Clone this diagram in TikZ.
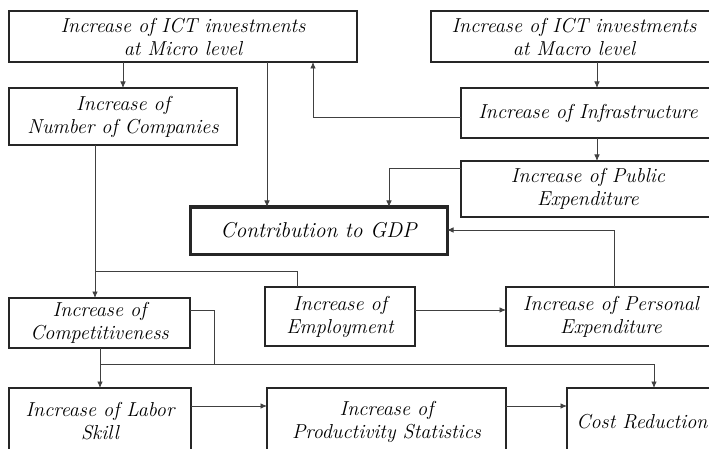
\documentclass[tikz,border=0pt]{standalone}
\usepackage{fontspec}
\usetikzlibrary{arrows.meta}
\newcommand\boxfont{\itshape\fontsize{20.2}{23}\selectfont}
\begin{document}
\begin{tikzpicture}[x=1pt,y=-1pt,
  box/.style={draw=black!85, line width=1.1pt, inner sep=0pt, outer sep=0pt,
    align=center, font=\boxfont, anchor=north west},
  keybox/.style={box, line width=3pt, font=\itshape\fontsize{21.5}{24}\selectfont},
  link/.style={draw=black!75, line width=0.8pt},
  arr/.style={link, -{Latex[length=6.5pt,width=5.5pt]}}]
\path[use as bounding box] (0,0) rectangle (709,449);
\clip (0,0) rectangle (709,449);

% boxes
\node[box, minimum width=348pt, minimum height=51pt] (micro) at (9,11)
  {Increase of ICT investments\\at Micro level};
\node[box, minimum width=286pt, minimum height=51pt] (macro) at (431,11)
  {Increase of ICT investments\\at Macro level};
\node[box, minimum width=228pt, minimum height=57pt] (ncomp) at (9,88)
  {Increase of\\Number of Companies};
\node[box, minimum width=254pt, minimum height=50pt] (infra) at (461,88)
  {Increase of Infrastructure};
\node[box, minimum width=254pt, minimum height=56pt] (public) at (461,161)
  {Increase of Public\\Expenditure};
\node[keybox, minimum width=257pt, minimum height=47pt] (gdp) at (190,207)
  {Contribution to GDP};
\node[box, minimum width=150pt, minimum height=59pt] (employ) at (265,287)
  {Increase of\\Employment};
\node[box, minimum width=210pt, minimum height=59pt] (personal) at (506,287)
  {Increase of Personal\\Expenditure};
\node[box, minimum width=181pt, minimum height=50pt] (compet) at (9,298)
  {Increase of\\Competitiveness};
\node[box, minimum width=182pt, minimum height=67pt] (labor) at (9,388)
  {Increase of Labor\\Skill};
\node[box, minimum width=239pt, minimum height=67pt] (prod) at (267,388)
  {Increase of\\Productivity Statistics};
\node[box, minimum width=150pt, minimum height=67pt] (cost) at (567,388)
  {Cost Reduction};

% routing columns and rows
\coordinate (xa) at (123,0);
\coordinate (xb) at (267,0);
\coordinate (xc) at (313,0);
\coordinate (xd) at (597,0);
\coordinate (xe) at (389,0);
\coordinate (xf) at (614,0);
\coordinate (xg) at (95,0);
\coordinate (xh) at (297,0);
\coordinate (xi) at (100,0);
\coordinate (xj) at (214,0);
\coordinate (xk) at (654,0);
\coordinate (ya) at (0,117);
\coordinate (yb) at (0,168);
\coordinate (yc) at (0,230);
\coordinate (yd) at (0,271);
\coordinate (ye) at (0,310);
\coordinate (yf) at (0,364);
\coordinate (yg) at (0,406);

% connectors
\draw[arr] (micro.south -| xa) -- (ncomp.north -| xa);
\draw[arr] (micro.south -| xb) -- (gdp.north -| xb);
\draw[arr] (infra.west |- ya) -| (micro.south -| xc);
\draw[arr] (macro.south -| xd) -- (infra.north -| xd);
\draw[arr] (infra.south -| xd) -- (public.north -| xd);
\draw[arr] (public.west |- yb) -| (gdp.north -| xe);
\draw[arr] (personal.north -| xf) |- (gdp.east |- yc);
\draw[arr] (ncomp.south -| xg) -- (compet.north -| xg);
\draw[link] (employ.north -| xh) |- (xg |- yd);
\draw[arr] (employ.east |- ye) -- (personal.west |- ye);
\draw[arr] (compet.south -| xi) -- (labor.north -| xi);
\draw[link] (compet.east |- ye) -| (xj |- yf);
\draw[arr] (xi |- yf) -| (cost.north -| xk);
\draw[arr] (labor.east |- yg) -- (prod.west |- yg);
\draw[arr] (prod.east |- yg) -- (cost.west |- yg);
\end{tikzpicture}
\end{document}
